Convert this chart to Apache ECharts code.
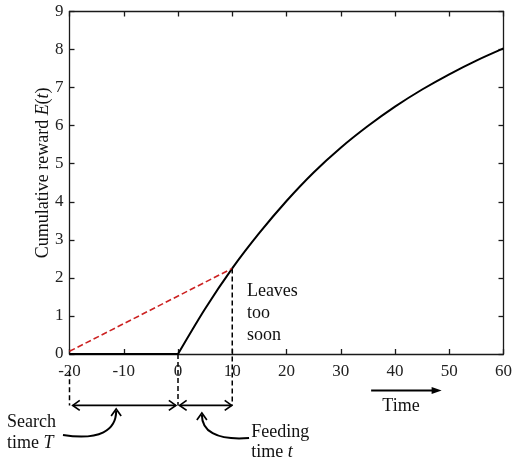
<!DOCTYPE html>
<html lang="en">
<head>
  <meta charset="UTF-8">
  <title>Cumulative reward</title>
  <script src="https://cdn.jsdelivr.net/npm/echarts@6/dist/echarts.min.js"></script>
  <style>
    html, body { margin: 0; padding: 0; background: #fff; }
    #main { width: 520px; height: 465px; }
  </style>
</head>
<body>
<div id="main"></div>
<script>
// values
var xTicks = [-20, -10, 0, 10, 20, 30, 40, 50, 60];
var yTicks = [0, 1, 2, 3, 4, 5, 6, 7, 8, 9];
var feedTime = [0, 5, 10, 15, 20, 25, 30, 35, 40, 45, 50, 55, 60];
var reward = [0, 1.19, 2.25, 3.18, 4.02, 4.77, 5.42, 5.99, 6.50, 6.95, 7.35, 7.71, 8.03];
var searchLine = [[-20, 0], [0, 0]];
var rateLine = [[-20, 0.07], [10, 2.25]];
var leaveAt = 10;
var leaveReward = 2.25;
var arrowLevel = -1.35;

var ink = '#1a1a1a';
var serif = '"Liberation Serif", "Times New Roman", serif';

var curve = feedTime.map(function (t, i) { return [t, reward[i]]; });

var chart = echarts.init(document.getElementById('main'));

function axisBase(showLabel) {
  return {
    type: 'value',
    min: xTicks[0], max: xTicks[xTicks.length - 1], interval: 10,
    axisLine: { onZero: false, lineStyle: { color: ink, width: 1.3 } },
    axisTick: { inside: true, length: 5, lineStyle: { color: ink, width: 1.3 } },
    axisLabel: { show: showLabel, color: '#222', fontSize: 17, fontFamily: serif, margin: 9 },
    splitLine: { show: false }
  };
}
function yBase(showLabel) {
  return {
    type: 'value',
    min: yTicks[0], max: yTicks[yTicks.length - 1], interval: 1,
    axisLine: { show: true, onZero: false, lineStyle: { color: ink, width: 1.3 } },
    axisTick: { show: true, inside: true, length: 5, lineStyle: { color: ink, width: 1.3 } },
    axisLabel: { show: showLabel, color: '#222', fontSize: 17, fontFamily: serif, margin: 6 },
    splitLine: { show: false }
  };
}

var xBottom = axisBase(true); xBottom.position = 'bottom';
var xTop = axisBase(false); xTop.position = 'top';
var yLeft = yBase(true); yLeft.position = 'left';
var yRight = yBase(false); yRight.position = 'right';

var option = {
  animation: false,
  grid: { left: 69.5, right: 16.5, top: 11.5, bottom: 111 },
  xAxis: [xBottom, xTop],
  yAxis: [yLeft, yRight],
  series: [
    {
      name: 'reward', type: 'line', data: curve, smooth: 0.3, showSymbol: false,
      lineStyle: { color: '#000', width: 2 }
    },
    {
      name: 'search', type: 'line', data: searchLine, showSymbol: false, clip: false,
      lineStyle: { color: '#000', width: 2 }
    },
    {
      name: 'rate', type: 'line', data: rateLine, showSymbol: false,
      lineStyle: { color: '#cc2222', width: 1.6, type: [6, 3] }
    },
    {
      name: 'leave', type: 'line', showSymbol: false, clip: false,
      data: [[leaveAt, leaveReward], [leaveAt, arrowLevel]],
      lineStyle: { color: '#000', width: 1.5, type: [5, 3] }
    },
    {
      name: 'start', type: 'line', showSymbol: false, clip: false,
      data: [[0, 0], [0, arrowLevel]],
      lineStyle: { color: '#000', width: 1.5, type: [5, 3] }
    },
    {
      name: 'searchStart', type: 'line', showSymbol: false, clip: false,
      data: [[-20, -0.45], [-20, arrowLevel]],
      lineStyle: { color: '#000', width: 1.5, type: [5, 3] }
    }
  ]
};

chart.setOption(option);

function px(x, y) { return chart.convertToPixel({ gridIndex: 0 }, [x, y]); }

// open chevron arrow head, dir = direction of travel in radians
function head(tip, dir, len, half) {
  var bx = tip[0] - Math.cos(dir) * len, by = tip[1] - Math.sin(dir) * len;
  var nx = -Math.sin(dir) * half, ny = Math.cos(dir) * half;
  return {
    type: 'polyline', silent: true,
    shape: { points: [[bx + nx, by + ny], tip, [bx - nx, by - ny]] },
    style: { stroke: '#000', lineWidth: 1.7, fill: null }
  };
}
function seg(a, b, w) {
  return {
    type: 'line', silent: true,
    shape: { x1: a[0], y1: a[1], x2: b[0], y2: b[1] },
    style: { stroke: '#000', lineWidth: w || 1.6 }
  };
}
function doubleArrow(x0, x1, y) {
  var a = px(x0, y), b = px(x1, y);
  return [seg(a, b), head(a, Math.PI, 7, 5), head(b, 0, 7, 5)];
}
function curvedArrow(p) {
  var s = px(p[0][0], p[0][1]), c1 = px(p[1][0], p[1][1]), c2 = px(p[2][0], p[2][1]), e = px(p[3][0], p[3][1]);
  return [
    {
      type: 'bezierCurve', silent: true,
      shape: { x1: s[0], y1: s[1], cpx1: c1[0], cpy1: c1[1], cpx2: c2[0], cpy2: c2[1], x2: e[0], y2: e[1] },
      style: { stroke: '#000', lineWidth: 2, fill: null }
    },
    head([e[0], e[1] - 2], -Math.PI / 2, 7, 5)
  ];
}
function label(text, x, y, align, lh) {
  var p = px(x, y);
  return {
    type: 'text', silent: true, x: p[0], y: p[1],
    style: {
      text: text, fill: '#111', font: '18px ' + serif,
      align: align, verticalAlign: 'middle', lineHeight: lh,
      rich: {
        n: { fontSize: 18, fontFamily: serif, fill: '#111', lineHeight: lh },
        i: { fontSize: 18, fontFamily: serif, fontStyle: 'italic', fill: '#111', lineHeight: lh }
      }
    }
  };
}

var graphics = [];
graphics = graphics.concat(doubleArrow(-19.4, -0.4, arrowLevel));
graphics = graphics.concat(doubleArrow(0.3, 9.9, arrowLevel));
// "Time" arrow with a slim filled head
var ta = px(35.6, -0.96), tb = px(48.6, -0.96);
graphics.push(seg(ta, [tb[0] - 6, tb[1]], 2));
graphics.push({
  type: 'polygon', silent: true,
  shape: { points: [[tb[0] - 10, tb[1] - 3.5], tb, [tb[0] - 10, tb[1] + 3.5]] },
  style: { fill: '#000' }
});
graphics = graphics.concat(curvedArrow([[-21.2, -2.13], [-14.4, -2.28], [-11.4, -2.0], [-11.4, -1.5]]));
graphics = graphics.concat(curvedArrow([[13.1, -2.21], [6.8, -2.28], [4.4, -2.0], [4.4, -1.6]]));

graphics.push(label('{n|Leaves}\n{n|too}\n{n|soon}', 12.7, 1.08, 'left', 22));
graphics.push(label('{n|Search}\n{n|time }{i|T}', -31.5, -2.06, 'left', 21));
graphics.push(label('{n|Feeding}\n{n|time }{i|t}', 13.5, -2.31, 'left', 20));
graphics.push(label('{n|Time}', 41.1, -1.37, 'center', 20));

var yl = px(-24.9, 4.76);
graphics.push({
  type: 'text', silent: true, x: yl[0], y: yl[1], rotation: Math.PI / 2,
  style: {
    text: '{n|Cumulative reward }{i|E}{n|(}{i|t}{n|)}',
    align: 'center', verticalAlign: 'middle',
    rich: {
      n: { fontSize: 18, fontFamily: serif, fill: '#111' },
      i: { fontSize: 18, fontFamily: serif, fontStyle: 'italic', fill: '#111' }
    }
  }
});

chart.setOption({ graphic: graphics });
</script>
</body>
</html>
